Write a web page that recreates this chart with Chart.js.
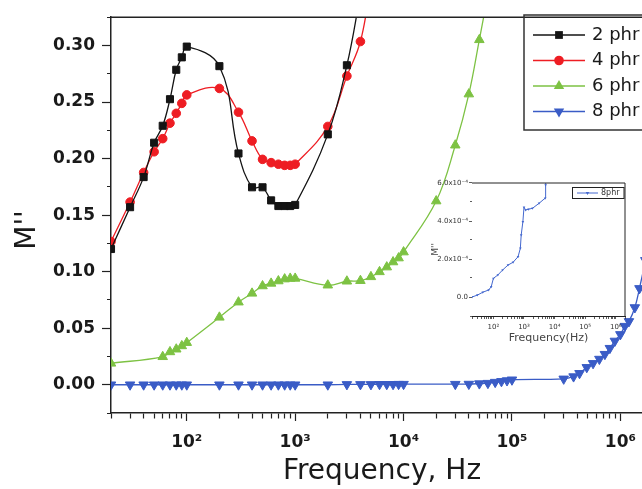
<!DOCTYPE html>
<html>
<head>
<meta charset="utf-8">
<title>M'' vs frequency</title>
<script src="https://cdn.jsdelivr.net/npm/chart.js@4.4.1/dist/chart.umd.min.js"></script>
<style>
  html, body { margin: 0; padding: 0; background: #fff; overflow: hidden; }
  .wrap { position: relative; width: 642px; height: 489px; overflow: hidden; }
  #mainChart { position: absolute; left: 0; top: 0; }
  #insetChart { position: absolute; left: 420px; top: 176px; }
</style>
</head>
<body>
<div class="wrap">
  <canvas id="mainChart" width="670" height="489"></canvas>
  <canvas id="insetChart" width="212" height="175"></canvas>
</div>
<script>
// 1. DATA: imaginary modulus M'' against frequency (Hz) for each loading
const freq2 = [20, 30, 40, 50, 60, 70, 80, 90, 100, 200, 300, 400, 500, 600, 700, 800, 900, 1000, 2000, 3000, 4000];
const m2 = [0.120, 0.157, 0.1836, 0.214, 0.229, 0.2525, 0.2785, 0.2895, 0.299, 0.2817, 0.2045, 0.1746, 0.1746,
            0.163, 0.158, 0.158, 0.158, 0.159, 0.2214, 0.2825, 0.345];

const freq4 = [20, 30, 40, 50, 60, 70, 80, 90, 100, 200, 300, 400, 500, 600, 700, 800, 900, 1000, 2000, 3000, 4000, 5000];
const m4 = [0.1266, 0.1615, 0.1877, 0.206, 0.2176, 0.2313, 0.240, 0.2488, 0.2563, 0.262, 0.241, 0.2156, 0.1993,
            0.1964, 0.195, 0.194, 0.194, 0.195, 0.2284, 0.273, 0.3035, 0.355];

const freq6 = [20, 60, 70, 80, 90, 100, 200, 300, 400, 500, 600, 700, 800, 900, 1000, 2000, 3000, 4000, 5000,
               6000, 7000, 8000, 9000, 10000, 20000, 30000, 40000, 50000, 60000];
const m6 = [0.0189, 0.0247, 0.029, 0.0314, 0.0343, 0.0372, 0.0596, 0.073, 0.0808, 0.0873, 0.0896, 0.0917, 0.0934,
            0.094, 0.094, 0.088, 0.0915, 0.092, 0.0954, 0.0998, 0.104, 0.1085, 0.112, 0.1173, 0.1624, 0.2118,
            0.257, 0.305, 0.345];

const freq8 = [20, 30, 40, 50, 60, 70, 80, 90, 100, 200, 300, 400, 500, 600, 700, 800, 900, 1000, 2000, 3000,
               4000, 5000, 6000, 7000, 8000, 9000, 10000, 30000, 40000, 50000, 60000, 70000, 80000, 90000, 100000,
               300000, 370000, 420000, 490000, 560000, 640000, 720000, 800000, 890000, 1000000, 1100000, 1200000,
               1360000, 1500000, 1700000, 2000000];
const m8 = [0, 0, 0, 0, 0, 0, 0, 0, 0, 0, 0, 0, 0, 0, 0, 0, 0, 0, 0, 0.0003,
            0.0003, 0.0003, 0.0004, 0.0004, 0.0004, 0.0005, 0.0005, 0.0005, 0.0006, 0.001, 0.0014, 0.0023, 0.003, 0.0037, 0.0044,
            0.0052, 0.0072, 0.0101, 0.0154, 0.0189, 0.0227, 0.027, 0.0323, 0.0387, 0.0445, 0.0518, 0.056,
            0.0683, 0.0852, 0.11, 0.15];

// inset: the 8 phr curve on its own scale
const insetFreq = [20, 30, 45, 70, 85, 100, 140, 200, 300, 440, 640, 760, 810, 920, 1000, 1130, 1400, 1900, 3100, 4900, 5100, 5400];
const insetM = [0, 0.1e-4, 0.25e-4, 0.37e-4, 0.54e-4, 0.98e-4, 1.16e-4, 1.42e-4, 1.68e-4, 1.83e-4, 2.12e-4, 2.56e-4,
                3.26e-4, 3.96e-4, 4.72e-4, 4.58e-4, 4.62e-4, 4.67e-4, 4.93e-4, 5.2e-4, 5.9e-4, 6.6e-4];

const seriesLabels = ['2 phr', '4 phr', '6 phr', '8 phr'];
const seriesColors = ['#141414', '#ee1d23', '#7dc243', '#3a5cc6'];
const decades = [100, 1000, 10000, 100000, 1000000];

const FONT = '"DejaVu Sans", Arial, sans-serif';
const INK = '#1a1a1a';
const SUP = { '0': '⁰', '1': '¹', '2': '²', '3': '³', '4': '⁴', '5': '⁵', '6': '⁶', '7': '⁷', '8': '⁸', '9': '⁹', '-': '⁻' };

function sup(n) {
    return String(n).split('').map(c => SUP[c]).join('');
}

// 1..9 x 10^n ticks between min and max, decades flagged as major
function logTicks(min, max) {
    const out = [];
    for (let p = 1; p <= 6; p++) {
        for (let m = 1; m <= 9; m++) {
            const v = m * Math.pow(10, p);
            if (v >= min && v <= max) out.push({ value: v, major: m === 1 });
        }
    }
    return out;
}

function decadeLabel(value) {
    const p = Math.round(Math.log10(value));
    return decades.includes(value) ? '10' + sup(p) : '';
}

function points(xs, ys) {
    return xs.map((x, i) => ({ x: x, y: ys[i] }));
}

function series(i, xs, ys, style, radius, rotation) {
    return {
        label: seriesLabels[i],
        data: points(xs, ys),
        borderColor: seriesColors[i],
        backgroundColor: seriesColors[i],
        borderWidth: 1.3,
        pointStyle: style,
        pointRadius: radius,
        pointRotation: rotation || 0,
        pointBorderWidth: 1,
        tension: 0.4
    };
}

// simple marker painter for the hand-drawn legends
function drawMarker(ctx, style, x, y, r, color, rot) {
    ctx.save();
    ctx.fillStyle = color;
    ctx.beginPath();
    if (style === 'rect') {
        const s = r * Math.SQRT1_2;
        ctx.rect(x - s, y - s, 2 * s, 2 * s);
    } else if (style === 'circle') {
        ctx.arc(x, y, r, 0, Math.PI * 2);
    } else {
        let ang = (rot || 0) * Math.PI / 180;
        for (let k = 0; k < 3; k++) {
            const px = x + Math.sin(ang) * r;
            const py = y - Math.cos(ang) * r;
            if (k) ctx.lineTo(px, py); else ctx.moveTo(px, py);
            ang += 2 * Math.PI / 3;
        }
        ctx.closePath();
    }
    ctx.fill();
    ctx.restore();
}

// 2. MAIN CHART: frame, y title and the boxed legend
const mainDecor = {
    id: 'mainDecor',
    afterDraw(chart) {
        const { ctx, chartArea: a } = chart;
        ctx.save();
        ctx.strokeStyle = '#222';
        ctx.lineWidth = 1.5;
        ctx.beginPath();
        ctx.moveTo(a.left, a.top);
        ctx.lineTo(a.right, a.top);
        ctx.lineTo(a.right, a.bottom);
        ctx.stroke();

        // rotated y title
        ctx.save();
        ctx.translate(35, 230);
        ctx.rotate(-Math.PI / 2);
        ctx.font = '28px ' + FONT;
        ctx.fillStyle = INK;
        ctx.textAlign = 'center';
        ctx.textBaseline = 'alphabetic';
        ctx.fillText("M''", 0, 0);
        ctx.restore();

        // legend box, partly cut by the right edge
        ctx.lineWidth = 1.5;
        ctx.strokeStyle = '#333';
        ctx.strokeRect(524, 15, 124, 115);
        ctx.font = '18px ' + FONT;
        ctx.textBaseline = 'middle';
        ctx.textAlign = 'left';
        chart.data.datasets.forEach((ds, i) => {
            const y = 35 + i * 25.5;
            ctx.strokeStyle = ds.borderColor;
            ctx.lineWidth = 1.3;
            ctx.beginPath();
            ctx.moveTo(533, y);
            ctx.lineTo(585, y);
            ctx.stroke();
            drawMarker(ctx, ds.pointStyle, 559, y, ds.pointRadius + 0.5, ds.borderColor, ds.pointRotation);
            ctx.fillStyle = INK;
            ctx.fillText(ds.label, 592, y);
        });
        ctx.restore();
    }
};

new Chart(document.getElementById('mainChart'), {
    type: 'line',
    data: {
        datasets: [
            series(0, freq2, m2, 'rect', 5),
            series(1, freq4, m4, 'circle', 4.3),
            series(2, freq6, m6, 'triangle', 5.5),
            series(3, freq8, m8, 'triangle', 5.5, 180)
        ]
    },
    options: {
        responsive: false,
        animation: false,
        layout: { padding: { top: 12, right: 17, left: 0, bottom: 0 }, autoPadding: false },
        plugins: { legend: { display: false }, tooltip: { enabled: false } },
        scales: {
            x: {
                type: 'logarithmic',
                min: 20,
                max: 2e6,
                afterBuildTicks: s => { s.ticks = logTicks(20, 2e6); },
                afterFit: s => { s.height = 76; },
                border: { display: true, color: '#222', width: 1.5 },
                grid: {
                    drawOnChartArea: false,
                    tickLength: 8,
                    tickColor: '#222',
                    tickWidth: 1.2,
                    tickBorderDash: c => (c.tick && c.tick.major) ? [] : [5, 20]
                },
                ticks: {
                    autoSkip: false,
                    maxRotation: 0,
                    padding: 11,
                    color: INK,
                    font: { family: FONT, size: 17, weight: 'bold' },
                    callback: v => decadeLabel(v)
                },
                title: {
                    display: true,
                    text: 'Frequency, Hz',
                    color: INK,
                    font: { family: FONT, size: 28 },
                    padding: { top: 0, bottom: 0 }
                }
            },
            y: {
                min: -0.025,
                max: 0.325,
                afterBuildTicks: s => {
                    const t = [];
                    for (let k = -1; k <= 13; k++) t.push({ value: k * 0.025, major: k % 2 === 0 });
                    s.ticks = t;
                },
                afterFit: s => { s.width = 111; },
                border: { display: true, color: '#222', width: 1.5 },
                grid: {
                    drawOnChartArea: false,
                    tickLength: 9,
                    tickColor: '#222',
                    tickWidth: 1.2,
                    tickBorderDash: c => (c.tick && c.tick.major) ? [] : [0, 5, 4, 40]
                },
                ticks: {
                    autoSkip: false,
                    padding: 7,
                    color: INK,
                    font: { family: FONT, size: 17, weight: 'bold' },
                    callback: v => (Math.round(v / 0.025) % 2 === 0) ? v.toFixed(2) : ''
                }
            }
        }
    },
    plugins: [mainDecor]
});

// 3. INSET: 8 phr on a 1e-4 scale
const insetDecor = {
    id: 'insetDecor',
    beforeDatasetsDraw(chart) {
        const { ctx, chartArea: a } = chart;
        ctx.save();
        ctx.fillStyle = '#fff';
        ctx.fillRect(a.left, a.top, a.right - a.left, a.bottom - a.top);
        ctx.restore();
    },
    afterDraw(chart) {
        const { ctx, chartArea: a } = chart;
        const ds = chart.data.datasets[0];
        ctx.save();
        ctx.strokeStyle = '#222';
        ctx.lineWidth = 1;
        ctx.beginPath();
        ctx.moveTo(a.left, a.top);
        ctx.lineTo(a.right, a.top);
        ctx.lineTo(a.right, a.bottom);
        ctx.stroke();

        // small legend in the upper right corner
        ctx.strokeRect(152.5, 11.5, 51.5, 11);
        ctx.strokeStyle = ds.borderColor;
        ctx.beginPath();
        ctx.moveTo(157, 17);
        ctx.lineTo(178, 17);
        ctx.stroke();
        drawMarker(ctx, 'triangle', 167.5, 17, 2, ds.borderColor, 180);
        ctx.fillStyle = '#333';
        ctx.font = '8px ' + FONT;
        ctx.textBaseline = 'middle';
        ctx.fillText(ds.label, 181, 17);
        ctx.restore();
    }
};

new Chart(document.getElementById('insetChart'), {
    type: 'line',
    data: {
        datasets: [{
            label: '8phr',
            data: points(insetFreq, insetM),
            borderColor: '#4468cf',
            backgroundColor: '#4468cf',
            borderWidth: 1,
            pointStyle: 'triangle',
            pointRotation: 180,
            pointRadius: 1.5,
            pointBorderWidth: 0,
            tension: 0
        }]
    },
    options: {
        responsive: false,
        animation: false,
        layout: { padding: { top: 7, right: 7, left: 0, bottom: 0 }, autoPadding: false },
        plugins: { legend: { display: false }, tooltip: { enabled: false } },
        scales: {
            x: {
                type: 'logarithmic',
                min: 20,
                max: 2e6,
                afterBuildTicks: s => { s.ticks = logTicks(20, 2e6); },
                afterFit: s => { s.height = 35; },
                border: { display: true, color: '#222', width: 1 },
                grid: {
                    drawOnChartArea: false,
                    tickLength: 3,
                    tickColor: '#333',
                    tickWidth: 0.8,
                    tickBorderDash: c => (c.tick && c.tick.major) ? [] : [2, 10]
                },
                ticks: {
                    autoSkip: false,
                    maxRotation: 0,
                    padding: 3.5,
                    color: '#333',
                    font: { family: FONT, size: 7 },
                    callback: v => decadeLabel(v)
                },
                title: {
                    display: true,
                    text: 'Frequency(Hz)',
                    color: '#444',
                    font: { family: FONT, size: 11 },
                    padding: { top: 0, bottom: 6 }
                }
            },
            y: {
                min: -1e-4,
                max: 6e-4,
                afterBuildTicks: s => {
                    const t = [];
                    for (let k = -1; k <= 6; k++) t.push({ value: k * 1e-4, major: k % 2 === 0 });
                    s.ticks = t;
                },
                afterFit: s => { s.width = 52; },
                border: { display: true, color: '#222', width: 1 },
                grid: {
                    drawOnChartArea: false,
                    tickLength: 3,
                    tickColor: '#333',
                    tickWidth: 0.8,
                    tickBorderDash: c => (c.tick && c.tick.major) ? [] : [0, 1, 2, 10]
                },
                ticks: {
                    autoSkip: false,
                    padding: 1,
                    color: '#333',
                    font: { family: FONT, size: 7 },
                    callback: v => {
                        const k = Math.round(v / 1e-4);
                        if (k % 2 !== 0) return '';
                        return k === 0 ? '0.0' : k.toFixed(1) + 'x10' + sup(-4);
                    }
                },
                title: {
                    display: true,
                    text: "M''",
                    color: '#444',
                    font: { family: FONT, size: 9 },
                    padding: { top: 10, bottom: 0 }
                }
            }
        }
    },
    plugins: [insetDecor]
});
</script>
</body>
</html>
